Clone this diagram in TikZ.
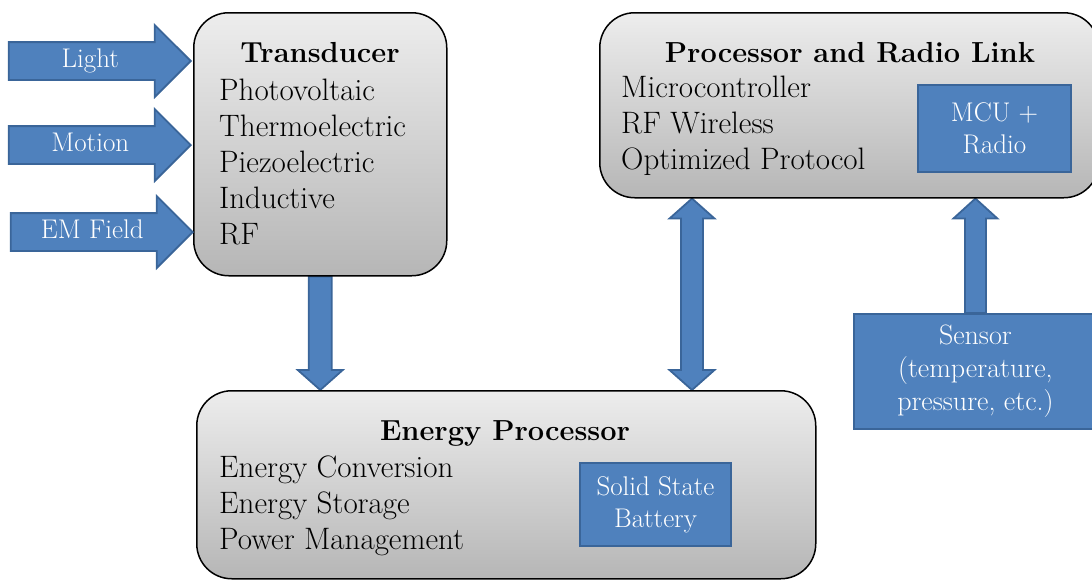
\documentclass[tikz,border=0pt]{standalone}
\usepackage{tikz}
\usetikzlibrary{positioning, calc, shapes.arrows, backgrounds}
\definecolor{boxtop}{HTML}{EDEDED}
\definecolor{boxbot}{HTML}{B6B6B6}
\definecolor{blkfill}{HTML}{4F81BD}
\definecolor{blkedge}{HTML}{3A6599}
\tikzset{
  gbox/.style={rectangle, rounded corners=35pt, draw=black, line width=1.5pt,
               top color=boxtop, bottom color=boxbot, anchor=north west},
  bbox/.style={rectangle, draw=blkedge, fill=blkfill, line width=1.8pt,
               text=white, align=center, font=\fontsize{27}{32}\selectfont},
  title/.style={font=\fontsize{29}{34}\selectfont\bfseries},
  items/.style={align=left, anchor=north west, inner sep=0pt,
                font=\fontsize{31}{36}\selectfont},
  inarr/.style={single arrow, draw=blkedge, fill=blkfill, line width=1.8pt,
                text=white, font=\fontsize{27}{27}\selectfont,
                single arrow head extend=17pt, minimum height=182pt,
                text height=17pt, text depth=5pt, inner ysep=7pt,
                inner xsep=0pt, anchor=tip},
  blk/.style={draw=blkedge, fill=blkfill, line width=1.8pt},
}

\begin{document}
\begin{tikzpicture}[x=1pt, y=-1pt]
  \useasboundingbox (0,0) rectangle (1092,581);
  \node[gbox, minimum width=253, minimum height=263] (tr) at (193,12) {};
  \node[title] (trt) at (320,53) {Transducer};
  \node[items] (tri) at (219,79) {Photovoltaic\\Thermoelectric\\Piezoelectric\\Inductive\\RF};

  \node[gbox, minimum width=499, minimum height=185] (proc) at (599,12) {};
  \node[title] (proct) at (850,53) {Processor and Radio Link};
  \node[items] (proci) at (621,76) {Microcontroller\\RF Wireless\\Optimized Protocol};
  \node[bbox, minimum width=153, minimum height=87] (mcu) at (994.5,128.5) {MCU +\\Radio};

  \node[gbox, minimum width=619, minimum height=188] (ep) at (196,390) {};
  \node[title] (ept) at (505,433) {Energy Processor};
  \node[items] (epi) at (219,456) {Energy Conversion\\Energy Storage\\Power Management};
  \node[bbox, minimum width=151, minimum height=83] (bat) at (655.5,504.5) {Solid State\\Battery};

  \node[bbox, minimum width=243, minimum height=115, anchor=north west,
        font=\fontsize{28}{33}\selectfont] (sen) at (853,313)
        {Sensor\\(temperature,\\pressure, etc.)};

  \node[inarr] (light) at (192,61) {Light};
  \node[inarr] (motion) at (192,145) {Motion};
  \node[inarr] (emf) at (194,232) {EM Field};

  \coordinate (dx) at (692,0);
  \coordinate (da) at (tr.south);
  \coordinate (db) at (ep.north -| tr.south);
  \coordinate (ua) at (sen.north);
  \coordinate (ub) at (proc.south -| sen.north);
  \coordinate (wa) at (ep.north -| dx);
  \coordinate (wb) at (proc.south -| dx);
  \begin{scope}[on background layer]
    \draw[blk] ($(da)+(-11.5,0)$) -- ($(db)+(-11.5,-20)$) -- ($(db)+(-22.5,-20)$) -- (db)
      -- ($(db)+(22.5,-20)$) -- ($(db)+(11.5,-20)$) -- ($(da)+(11.5,0)$) -- cycle;
    \draw[blk] ($(ua)+(-10.5,0)$) -- ($(ub)+(-10.5,20)$) -- ($(ub)+(-22,20)$) -- (ub)
      -- ($(ub)+(22,20)$) -- ($(ub)+(10.5,20)$) -- ($(ua)+(10.5,0)$) -- cycle;
    \draw[blk] (wa) -- ($(wa)+(-22.5,-20)$) -- ($(wa)+(-11,-20)$) -- ($(wb)+(-11,20)$)
      -- ($(wb)+(-22.5,20)$) -- (wb) -- ($(wb)+(22.5,20)$) -- ($(wb)+(11,20)$)
      -- ($(wa)+(11,-20)$) -- ($(wa)+(22.5,-20)$) -- cycle;
  \end{scope}
\end{tikzpicture}
\end{document}
